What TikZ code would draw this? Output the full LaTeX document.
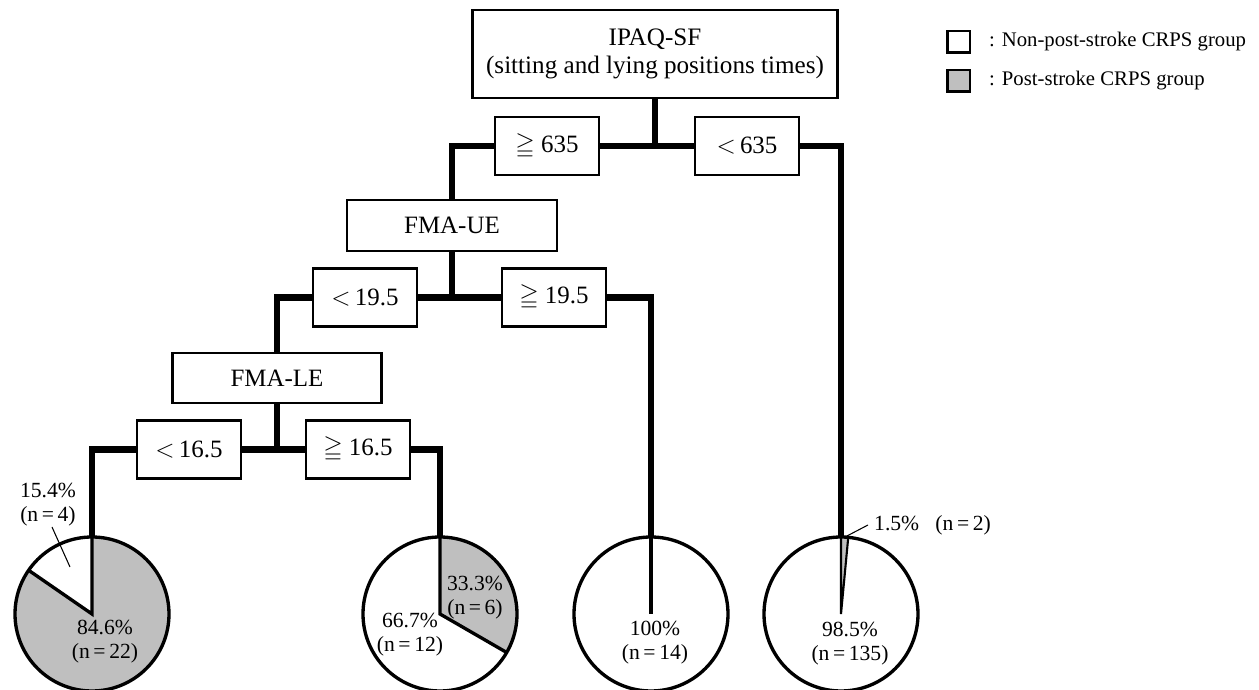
\documentclass[tikz,border=0pt]{standalone}
\usepackage{amssymb}
\usepackage{fontspec}
\setmainfont{Liberation Serif}
\begin{document}
\begin{tikzpicture}[x=0.02cm,y=0.02cm,
		box/.style={draw,line width=1.3pt,inner sep=0pt,minimum width=2.08cm,minimum height=1.16cm,font=\fontsize{14.2}{16}\selectfont},
		conn/.style={line width=3.8pt},
		pie/.style={line width=1.9pt},
		lab/.style={align=center,font=\fontsize{12.3}{13.6}\selectfont},
		legbox/.style={draw,line width=1.7pt,inner sep=0pt,minimum width=0.46cm,minimum height=0.44cm}]
		\useasboundingbox (0,0) rectangle (1259,690);

		\node[box,minimum width=7.3cm,minimum height=1.76cm,align=center,font=\fontsize{14.3}{15.5}\selectfont] (ipaq) at (655,636) {IPAQ-SF\\(sitting and lying positions times)};
		\node[box] (ge635) at (547,544) {$\geqq$ 635};
		\node[box] (lt635) at (747,544) {$<$\,635};
		\node[box,minimum width=4.2cm,minimum height=1.02cm] (fmaue) at (452,464.5) {FMA-UE};
		\node[box] (lt195) at (365,392.5) {$<$\,19.5};
		\node[box] (ge195) at (554,392.5) {$\geqq$ 19.5};
		\node[box,minimum width=4.18cm,minimum height=1cm] (fmale) at (277,312) {FMA-LE};
		\node[box] (lt165) at (189,240.5) {$<$\,16.5};
		\node[box] (ge165) at (358,240.5) {$\geqq$ 16.5};

		\coordinate (c1) at (92,76);
		\coordinate (c2) at (440,76);
		\coordinate (c3) at (651,76);
		\coordinate (c4) at (841,76);
		\coordinate (top1) at (92,153);
		\coordinate (top2) at (440,153);
		\coordinate (top3) at (651,153);
		\coordinate (top4) at (841,153);

		\draw[conn] (ipaq.south) -- (ipaq.south |- ge635.east);
		\draw[conn] (ge635.east) -- (lt635.west);
		\draw[conn] (ge635.west) -| (fmaue.north);
		\draw[conn] (lt635.east) -| (top4);
		\draw[conn] (fmaue.south) -- (fmaue.south |- lt195.east);
		\draw[conn] (lt195.east) -- (ge195.west);
		\draw[conn] (lt195.west) -| (fmale.north);
		\draw[conn] (ge195.east) -| (top3);
		\draw[conn] (fmale.south) -- (fmale.south |- lt165.east);
		\draw[conn] (lt165.east) -- (ge165.west);
		\draw[conn] (lt165.west) -| (top1);
		\draw[conn] (ge165.east) -| (top2);

		% pies
		\fill[black!25] (c1) -- (top1) arc[start angle=90,end angle=-214.6,radius=77] -- cycle;
		\draw[pie] (c1) circle[radius=77];
		\draw[pie] (top1) -- (c1) -- ++(145.4:77);

		\fill[black!25] (c2) -- (top2) arc[start angle=90,end angle=-30,radius=77] -- cycle;
		\draw[pie] (c2) circle[radius=77];
		\draw[pie] (top2) -- (c2) -- ++(-30:77);

		\draw[pie] (c3) circle[radius=77];
		\draw[pie] (top3) -- (c3);

		\fill[black!25] (c4) -- (top4) arc[start angle=90,end angle=84.6,radius=77] -- cycle;
		\draw[pie] (c4) circle[radius=77];
		\draw[line width=1.2pt] (top4) -- (c4) -- ++(84.6:77);

		\node[lab] (l1a) at (48,185) {15.4\%\\(n\,=\,4)};
		\node[lab] (l1b) at (105,48) {84.6\%\\(n\,=\,22)};
		\node[lab] (l2a) at (475,92) {33.3\%\\(n\,=\,6)};
		\node[lab] (l2b) at (410,55) {66.7\%\\(n\,=\,12)};
		\node[lab] (l3) at (655,47) {100\%\\(n\,=\,14)};
		\node[lab] (l4b) at (850,46) {98.5\%\\(n\,=\,135)};
		\node[lab,anchor=west] (l4a) at (868,165) {1.5\%\hspace{0.75em}(n\,=\,2)};
		\draw[line width=0.6pt] (52,163) -- (70,123);
		\draw[line width=0.6pt] (845,153) -- (l4a.west);

		% legend
		\node[legbox] (leg1) at (958.5,648) {};
		\node[legbox,fill=black!25] (leg2) at (958.5,609) {};
		\node[lab,anchor=west,font=\fontsize{11.8}{13.6}\selectfont] (legt1) at (983,648) {: Non-post-stroke CRPS group};
		\node[lab,anchor=west,font=\fontsize{11.8}{13.6}\selectfont] (legt2) at (983,609) {: Post-stroke CRPS group};
	\end{tikzpicture}
\end{document}
